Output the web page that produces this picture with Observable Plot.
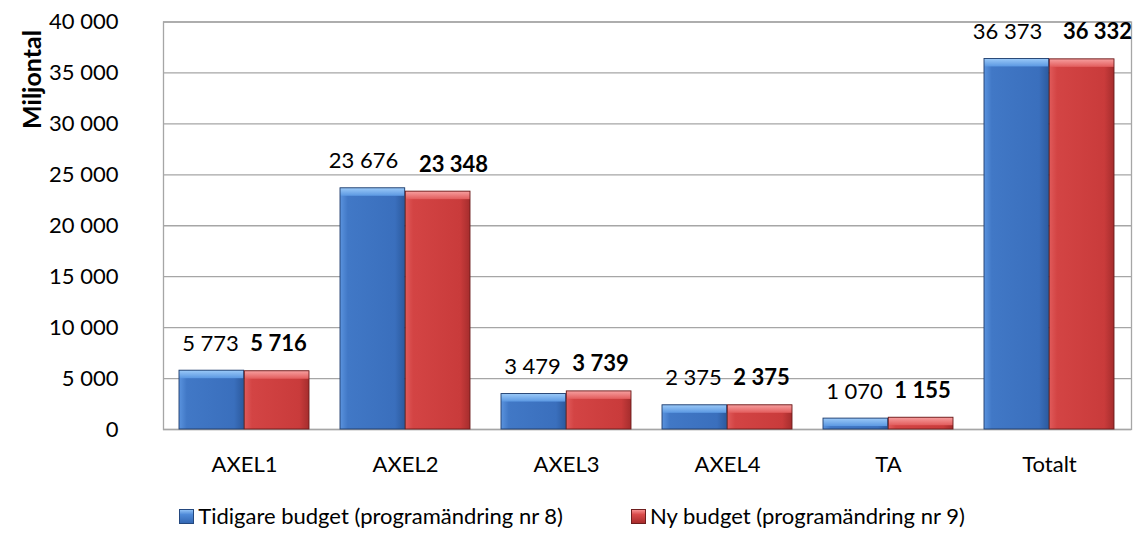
<!DOCTYPE html>
<html>
<head>
<meta charset="utf-8">
<script src="https://cdn.jsdelivr.net/npm/d3@7"></script>
<script src="https://cdn.jsdelivr.net/npm/@observablehq/plot@0.6"></script>
<style>
  body { margin: 0; background: #fff; font-family: Lato, "Open Sans", sans-serif; }
  #wrap { position: relative; width: 1144px; height: 533px; overflow: hidden; background: #fff; }
  #legend { position: absolute; left: 0; top: 502px; width: 1144px; display: flex; justify-content: center;
            align-items: center; font-size: 22px; line-height: 28px; color: #000; }
  .item { display: flex; align-items: center; }
  .item + .item { margin-left: 68px; }
  .sw { width: 15px; height: 15px; margin-right: 4px; box-sizing: border-box; }
  .sw.blue { background: linear-gradient(to bottom, #8fc0f5 0%, #4f8ad8 35%, #3468b4 100%); border: 1px solid #24487e; }
  .sw.red { background: linear-gradient(to bottom, #f59090 0%, #d94a4a 35%, #a82c2c 100%); border: 1px solid #6e1e1e; }
</style>
</head>
<body>
<div id="wrap">
  <div id="chart"></div>
  <div id="legend"></div>
</div>
<script>
const categories = ["AXEL1", "AXEL2", "AXEL3", "AXEL4", "TA", "Totalt"];
const previousBudget = [5773, 23676, 3479, 2375, 1070, 36373];
const newBudget = [5716, 23348, 3739, 2375, 1155, 36332];
const seriesNames = ["Tidigare budget (programändring nr 8)", "Ny budget (programändring nr 9)"];
const yTicks = [0, 5000, 10000, 15000, 20000, 25000, 30000, 35000, 40000];
const yLabel = "Miljontal";

const rows = categories.map((c, i) => ({cat: c, prev: previousBudget[i], next: newBudget[i]}));
const fmt = d => d3.format(",")(d).replace(/,/g, " ");
const FONT = 'Lato, "Open Sans", sans-serif';
const half = 65.3;

const small = rows.filter(d => d.prev < 10000);
const large = rows.filter(d => d.prev >= 10000);

const chart = Plot.plot({
  width: 1144,
  height: 495,
  marginLeft: 163,
  marginRight: 13,
  marginTop: 21.5,
  marginBottom: 66,
  style: {fontFamily: FONT, fontSize: "22px", color: "#000", background: "#fff", overflow: "visible"},
  x: {domain: categories, paddingInner: 0.19, paddingOuter: 0.095, label: null},
  y: {domain: [0, 40000], label: null},
  marks: [
    Plot.ruleY(yTicks, {stroke: "#a6a6a6", strokeWidth: 1.3}),
    Plot.frame({stroke: "#a6a6a6", strokeWidth: 1.3}),
    Plot.axisY({ticks: yTicks, tickSize: 0, tickPadding: 45, tickFormat: fmt, fontSize: 22, label: null}),
    Plot.axisX({tickSize: 0, tickPadding: 27, fontSize: 22, label: null}),
    // blue bars
    Plot.barY(rows, {x: "cat", y: "prev", insetRight: half, fill: "url(#gBlue)"}),
    Plot.barY(rows, {x: "cat", y1: "prev", y2: "prev", insetRight: half, insetBottom: -8, fill: "url(#gBlueTop)"}),
    Plot.barY(rows, {x: "cat", y: "prev", insetRight: half, fill: "none", stroke: "#1f3d6c", strokeWidth: 0.9}),
    // red bars
    Plot.barY(rows, {x: "cat", y: "next", insetLeft: half, fill: "url(#gRed)"}),
    Plot.barY(rows, {x: "cat", y1: "next", y2: "next", insetLeft: half, insetBottom: -8, fill: "url(#gRedTop)"}),
    Plot.barY(rows, {x: "cat", y: "next", insetLeft: half, fill: "none", stroke: "#6a1c1c", strokeWidth: 0.9}),
    // value labels
    Plot.text(small, {x: "cat", y: "prev", text: d => fmt(d.prev), dx: -34, dy: -20, lineAnchor: "bottom", fontSize: 22, fill: "#000"}),
    Plot.text(small, {x: "cat", y: "next", text: d => fmt(d.next), dx: 34, dy: -20, lineAnchor: "bottom", fontSize: 22, fontWeight: "bold", fill: "#000"}),
    Plot.text(large, {x: "cat", y: "prev", text: d => fmt(d.prev), dx: -42, dy: -20, lineAnchor: "bottom", fontSize: 22, fill: "#000"}),
    Plot.text(large, {x: "cat", y: "next", text: d => fmt(d.next), dx: 48, dy: -20, lineAnchor: "bottom", fontSize: 22, fontWeight: "bold", fill: "#000"}),
    // y axis title
    Plot.text([yLabel], {frameAnchor: "top-left", dx: -140.5, dy: 57.5, rotate: -90, textAnchor: "middle",
                         fontWeight: "bold", fontSize: 25, fill: "#000"})
  ]
});

const defs = document.createElementNS("http://www.w3.org/2000/svg", "defs");
defs.innerHTML = `
  <linearGradient id="gBlue" x1="0" y1="0" x2="1" y2="0">
    <stop offset="0" stop-color="#5a93de"/>
    <stop offset="0.12" stop-color="#4178c6"/>
    <stop offset="0.85" stop-color="#3a6fbd"/>
    <stop offset="1" stop-color="#2c5a9e"/>
  </linearGradient>
  <linearGradient id="gBlueTop" x1="0" y1="0" x2="0" y2="1">
    <stop offset="0" stop-color="#9ccaf8"/>
    <stop offset="1" stop-color="#5b98e2"/>
  </linearGradient>
  <linearGradient id="gRed" x1="0" y1="0" x2="1" y2="0">
    <stop offset="0" stop-color="#e05a5a"/>
    <stop offset="0.12" stop-color="#d34444"/>
    <stop offset="0.85" stop-color="#c93b3b"/>
    <stop offset="1" stop-color="#a52d2d"/>
  </linearGradient>
  <linearGradient id="gRedTop" x1="0" y1="0" x2="0" y2="1">
    <stop offset="0" stop-color="#f7a0a0"/>
    <stop offset="1" stop-color="#e25c5c"/>
  </linearGradient>`;
chart.insertBefore(defs, chart.firstChild);
document.getElementById("chart").appendChild(chart);

const legend = document.getElementById("legend");
["blue", "red"].forEach((cls, i) => {
  const item = document.createElement("div");
  item.className = "item";
  const sw = document.createElement("span");
  sw.className = "sw " + cls;
  const t = document.createElement("span");
  t.textContent = seriesNames[i];
  item.appendChild(sw);
  item.appendChild(t);
  legend.appendChild(item);
});
</script>
</body>
</html>
